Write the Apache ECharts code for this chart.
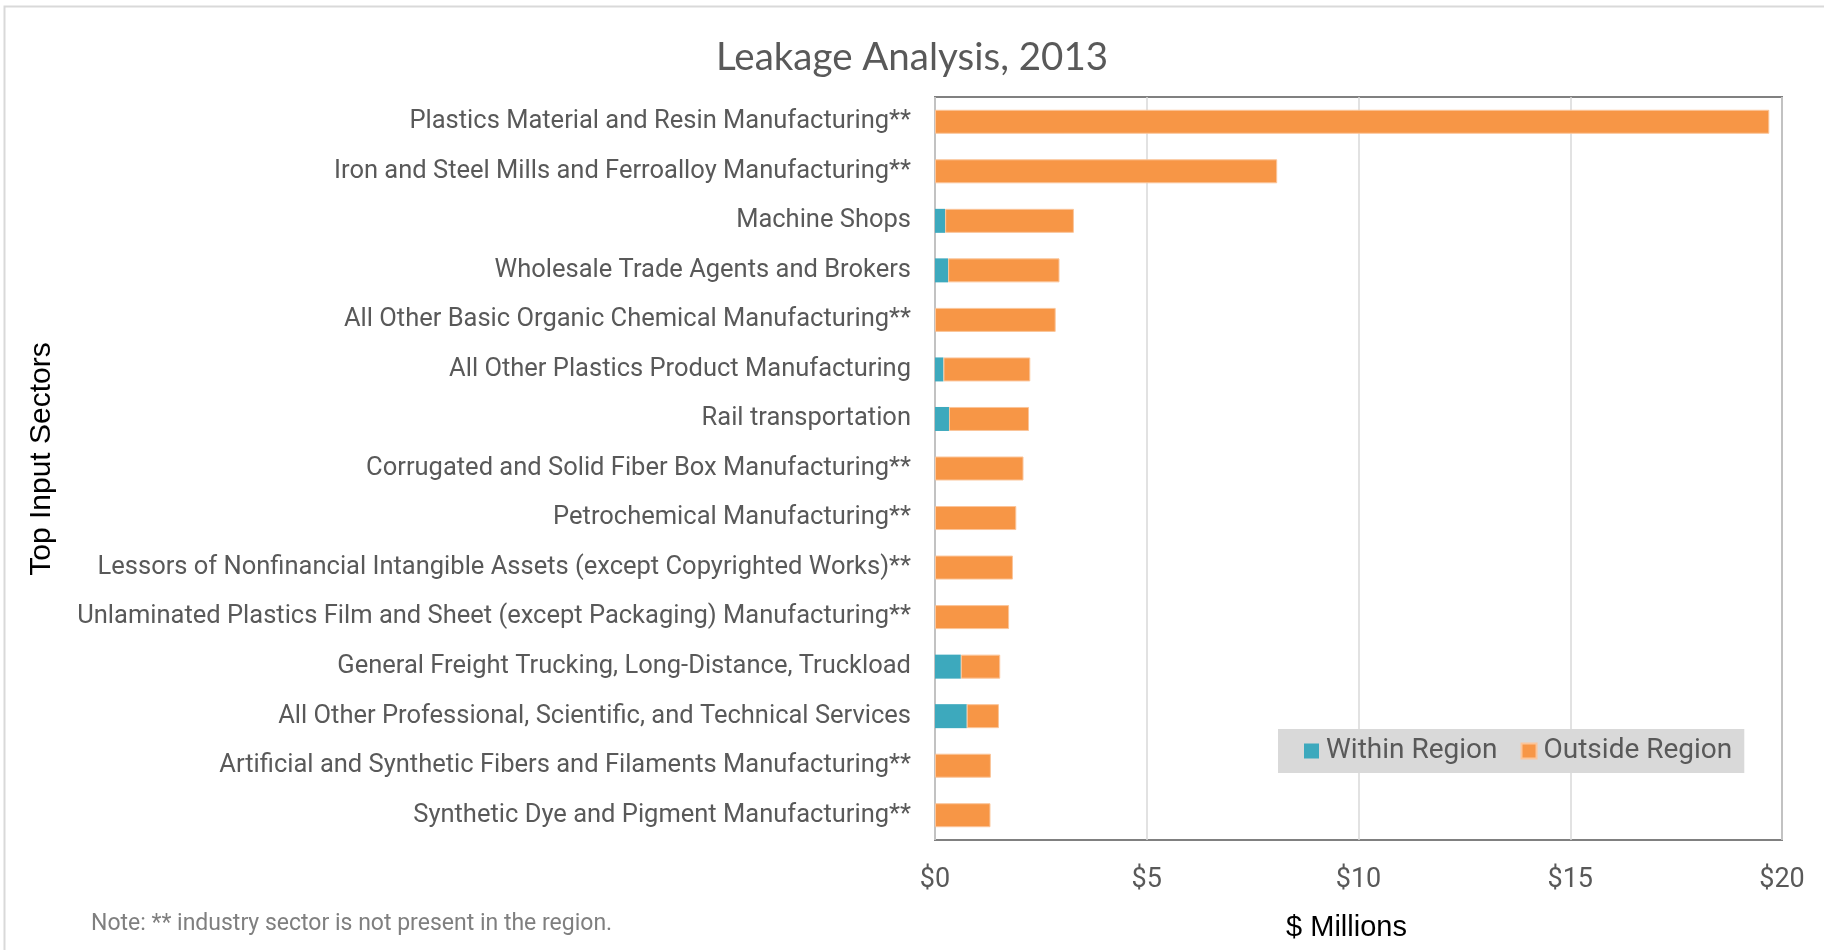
<!DOCTYPE html>
<html>
<head>
<meta charset="utf-8">
<title>Leakage Analysis, 2013</title>
<script src="https://cdn.jsdelivr.net/npm/echarts@6/dist/echarts.min.js"></script>
<style>
  html, body { margin: 0; padding: 0; background: #fff; }
  #chart { width: 1824px; height: 950px; }
</style>
</head>
<body>
<div id="chart"></div>
<script>
// sectors, top to bottom
var sectors = [
    'Plastics Material and Resin Manufacturing**',
    'Iron and Steel Mills and Ferroalloy Manufacturing**',
    'Machine Shops',
    'Wholesale Trade Agents and Brokers',
    'All Other Basic Organic Chemical Manufacturing**',
    'All Other Plastics Product Manufacturing',
    'Rail transportation',
    'Corrugated and Solid Fiber Box Manufacturing**',
    'Petrochemical Manufacturing**',
    'Lessors of Nonfinancial Intangible Assets (except Copyrighted Works)**',
    'Unlaminated Plastics Film and Sheet (except Packaging) Manufacturing**',
    'General Freight Trucking, Long-Distance, Truckload',
    'All Other Professional, Scientific, and Technical Services',
    'Artificial and Synthetic Fibers and Filaments Manufacturing**',
    'Synthetic Dye and Pigment Manufacturing**'
];

// $ millions
var withinRegion = [0, 0, 0.24, 0.31, 0, 0.20, 0.33, 0, 0, 0, 0, 0.61, 0.75, 0, 0];
var outsideRegion = [19.70, 8.08, 3.04, 2.63, 2.85, 2.05, 1.89, 2.09, 1.92, 1.84, 1.75, 0.93, 0.76, 1.32, 1.31];

var xTicks = [0, 5, 10, 15, 20];

var labelFont = 'Roboto';

var myChart = echarts.init(document.getElementById('chart'));

var option = {
    animation: false,
    title: {
        text: 'Leakage Analysis, 2013',
        left: 'center',
        top: 33,
        padding: [5, 0, 5, 12],
        textStyle: {
            fontFamily: 'Lato',
            fontWeight: 'normal',
            fontSize: 38.5,
            color: '#595959'
        }
    },
    graphic: [
        {
            type: 'rect',
            shape: { x: 4.5, y: 6.5, width: 1830, height: 960 },
            style: { fill: 'none', stroke: '#d9d9d9', lineWidth: 2 },
            silent: true
        },
        {
            type: 'text',
            left: 91,
            top: 913,
            style: {
                text: 'Note: ** industry sector is not present in the region.',
                fontFamily: labelFont,
                fontSize: 23,
                fill: '#7f7f7f'
            }
        }
    ],
    legend: {
        data: ['Within Region', 'Outside Region'],
        left: 1278,
        top: 729,
        icon: 'rect',
        itemWidth: 15,
        itemHeight: 15,
        itemGap: 23,
        padding: [8, 12, 8, 26],
        backgroundColor: '#d9d9d9',
        textStyle: {
            fontFamily: labelFont,
            fontSize: 28,
            color: '#595959',
            padding: [0, 0, 0, 2]
        }
    },
    grid: {
        left: 935,
        right: 42,
        top: 97,
        bottom: 110,
        show: true,
        borderColor: '#808080',
        borderWidth: 2,
        backgroundColor: 'transparent'
    },
    xAxis: {
        type: 'value',
        min: xTicks[0],
        max: xTicks[xTicks.length - 1],
        interval: 5,
        name: '$ Millions',
        nameLocation: 'middle',
        nameGap: 73,
        nameTextStyle: {
            fontFamily: 'Liberation Sans',
            fontSize: 29,
            color: '#000',
            padding: [0, 24, 0, 0]
        },
        axisLine: { show: false },
        axisTick: { show: false },
        splitLine: { lineStyle: { color: '#d9d9d9', width: 1.5 } },
        axisLabel: {
            margin: 27,
            fontFamily: labelFont,
            fontSize: 27,
            color: '#595959',
            formatter: function (v) { return '$' + v; }
        }
    },
    yAxis: {
        type: 'category',
        inverse: true,
        data: sectors,
        name: 'Top Input Sectors',
        nameLocation: 'middle',
        nameGap: 878,
        nameRotate: 90,
        nameTextStyle: {
            fontFamily: 'Liberation Sans',
            fontSize: 30,
            color: '#000',
            padding: [0, 0, 0, 19]
        },
        axisLine: { show: false },
        axisTick: { show: false },
        axisLabel: {
            margin: 24,
            padding: [5, 0, 0, 0],
            fontFamily: labelFont,
            fontSize: 25.5,
            color: '#595959'
        }
    },
    series: [
        {
            name: 'Within Region',
            type: 'bar',
            stack: 'total',
            data: withinRegion,
            barWidth: 24,
            itemStyle: { color: '#3DA9BD' }
        },
        {
            name: 'Outside Region',
            type: 'bar',
            stack: 'total',
            data: outsideRegion,
            barWidth: 24,
            itemStyle: { color: '#F79646', borderColor: '#FBC59A', borderWidth: 1 }
        }
    ]
};

myChart.setOption(option);
</script>
</body>
</html>
